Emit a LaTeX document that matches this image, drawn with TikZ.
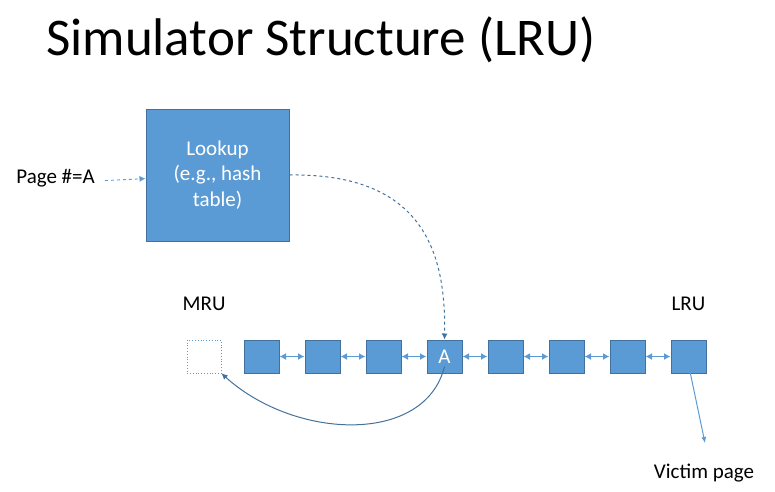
\documentclass[tikz,border=0pt]{standalone}
\usepackage{fontspec}
\setmainfont{Carlito}
\usepackage{xcolor}
\usepackage{tikz}
\usetikzlibrary{arrows.meta,positioning}

\definecolor{bluefill}{HTML}{5B9BD5}
\definecolor{blueline}{HTML}{41719C}

\begin{document}
\begin{tikzpicture}[
    x=1pt, y=-1pt,
    node distance=25pt,
    every node/.style={font=\fontsize{21}{25.5}\selectfont},
    heading/.style={font=\fontsize{53}{60}\selectfont, inner sep=0pt},
    lookupbox/.style={draw=blueline, line width=1pt, fill=bluefill, text=white,
                      minimum width=143pt, minimum height=132pt, align=center},
    pagebox/.style={draw=blueline, line width=1pt, fill=bluefill, text=white,
                    minimum width=35pt, minimum height=33pt, inner sep=0pt},
    slotbox/.style={draw=bluefill, dotted, line width=0.8pt,
                    minimum width=34pt, minimum height=33pt, inner sep=0pt},
    link/.style={{Latex[length=6.5pt,width=7pt]}-{Latex[length=6.5pt,width=7pt]}, bluefill, line width=1.3pt},
    request/.style={-{Latex[length=6pt,width=6pt]}, bluefill, dashed, line width=0.9pt},
    probe/.style={-{Latex[length=6pt,width=6pt]}, blueline, dashed, line width=1pt},
    promote/.style={-{Latex[length=6pt,width=6pt]}, blueline, line width=1pt},
    evict/.style={-{Latex[length=6pt,width=5pt]}, bluefill, line width=1pt}
]
\useasboundingbox (0,0) rectangle (775,491);

% Title
\node[heading, anchor=base west] (title) at (46,55) {Simulator Structure (LRU)};

% Lookup
\node[anchor=base east, inner sep=0pt] (page) at (95,183) {Page \#=A};
\node[lookupbox] (lookup) at (217.5,175) {Lookup\\(e.g., hash\\table)};

% LRU list
\node[pagebox] (p1) at (261.5,356.5) {};
\node[pagebox, right=of p1] (p2) {};
\node[pagebox, right=of p2] (p3) {};
\node[pagebox, right=of p3] (pA) {A};
\node[pagebox, right=of pA] (p5) {};
\node[pagebox, right=of p5] (p6) {};
\node[pagebox, right=of p6] (p7) {};
\node[pagebox, right=of p7] (pL) {};
\node[slotbox, left=22pt of p1] (mru) {};

\node[anchor=base] (mrulabel) at (mru |- 0,310) {MRU};
\node[anchor=base] (lrulabel) at (pL |- 0,310) {LRU};
\node[anchor=base] (victim) at (704,478) {Victim page};
\coordinate (vtip) at (705,443);

% Links
\draw[link] (p1) -- (p2);
\draw[link] (p2) -- (p3);
\draw[link] (p3) -- (pA);
\draw[link] (pA) -- (p5);
\draw[link] (p5) -- (p6);
\draw[link] (p6) -- (p7);
\draw[link] (p7) -- (pL);

% Flow
\draw[request] ([xshift=10pt]page.mid east) -- (lookup);
\draw[probe] (lookup.east) .. controls (425,173) and (446,255) .. (pA.north);
\draw[promote] ([yshift=7pt]pA.south) .. controls (425,445) and (295,440) .. (mru.south east);
\draw[evict] ([yshift=9pt]pL.south) -- (vtip);

\end{tikzpicture}
\end{document}
